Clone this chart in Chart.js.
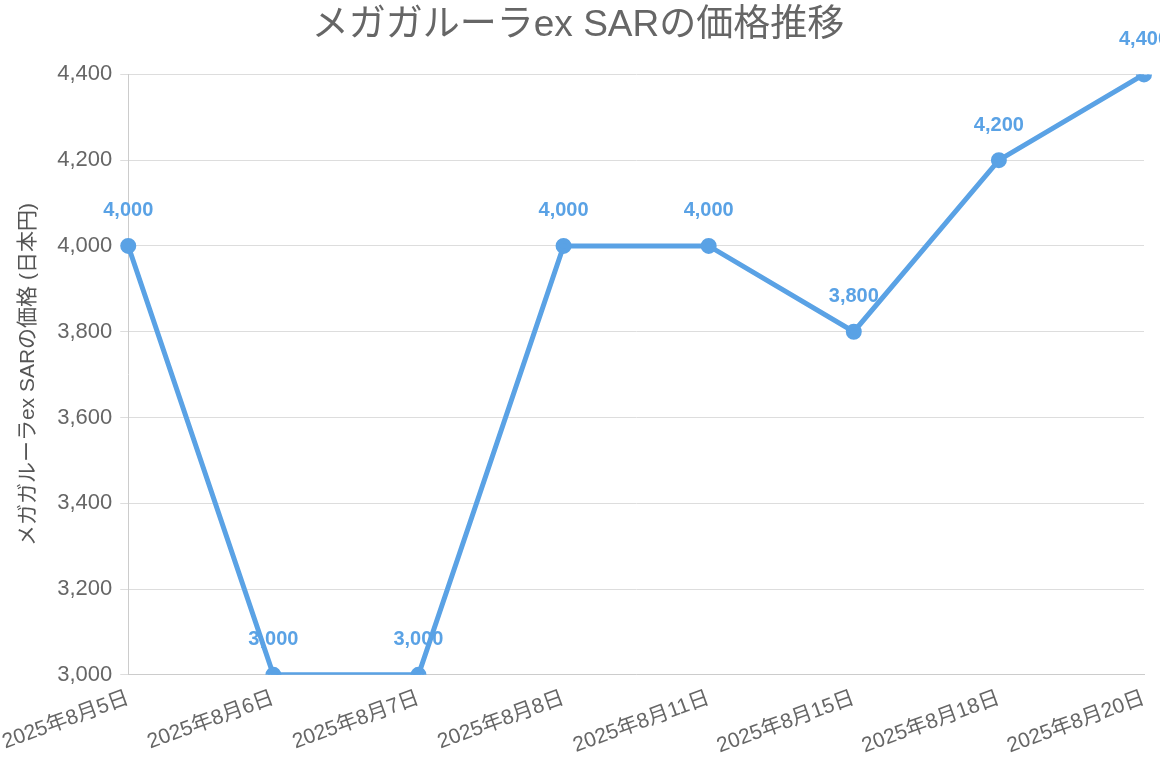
<!DOCTYPE html>
<html>
<head>
<meta charset="utf-8">
<script src="https://cdn.jsdelivr.net/npm/chart.js@4"></script>
<style>
  html, body { margin: 0; padding: 0; background: #fff; }
  #wrap { width: 1160px; height: 766px; }
</style>
</head>
<body>
<div id="wrap"><canvas id="c"></canvas></div>
<script>
// --- data ---
const dates = ['2025年8月5日', '2025年8月6日', '2025年8月7日', '2025年8月8日',
               '2025年8月11日', '2025年8月15日', '2025年8月18日', '2025年8月20日'];
const prices = [4000, 3000, 3000, 4000, 4000, 3800, 4200, 4400];

const FONT = '"Liberation Sans", Arial, "Noto Sans CJK JP", sans-serif';
const BLUE = '#5aa2e5';

// labels above each point
const pointLabels = {
    id: 'pointLabels',
    afterDatasetsDraw(chart) {
        const ctx = chart.ctx;
        const meta = chart.getDatasetMeta(0);
        ctx.save();
        ctx.font = 'bold 20px ' + FONT;
        ctx.fillStyle = BLUE;
        ctx.textAlign = 'center';
        ctx.textBaseline = 'middle';
        meta.data.forEach((pt, i) => {
            ctx.fillText(prices[i].toLocaleString('en-US'), pt.x, pt.y - 35);
        });
        ctx.restore();
    }
};

new Chart(document.getElementById('c'), {
    type: 'line',
    data: {
        labels: dates,
        datasets: [{
            data: prices,
            borderColor: BLUE,
            backgroundColor: BLUE,
            borderWidth: 5,
            pointRadius: 5.5,
            tension: 0
        }]
    },
    options: {
        responsive: true,
        maintainAspectRatio: false,
        animation: false,
        layout: { padding: { top: 4, right: 16, left: 12, bottom: 4 } },
        plugins: {
            legend: { display: false },
            tooltip: { enabled: false },
            title: {
                display: true,
                text: 'メガガルーラex SARの価格推移',
                color: '#666',
                font: { family: FONT, size: 37, weight: 'normal' },
                padding: { top: 0, bottom: 26 }
            }
        },
        scales: {
            x: {
                offset: false,
                grid: { display: false },
                border: { color: '#ccc' },
                ticks: {
                    color: '#666',
                    font: { family: FONT, size: 21 },
                    minRotation: 20,
                    maxRotation: 20,
                    autoSkip: false
                }
            },
            y: {
                min: 3000,
                max: 4400,
                grid: { color: '#ddd' },
                border: { color: '#ccc' },
                ticks: {
                    stepSize: 200,
                    color: '#666',
                    padding: 8,
                    font: { family: FONT, size: 22 },
                    callback: v => v.toLocaleString('en-US')
                },
                title: {
                    display: true,
                    text: 'メガガルーラex SARの価格 (日本円)',
                    color: '#555',
                    padding: { bottom: 8 },
                    font: { family: FONT, size: 21 }
                }
            }
        }
    },
    plugins: [pointLabels]
});
</script>
</body>
</html>
